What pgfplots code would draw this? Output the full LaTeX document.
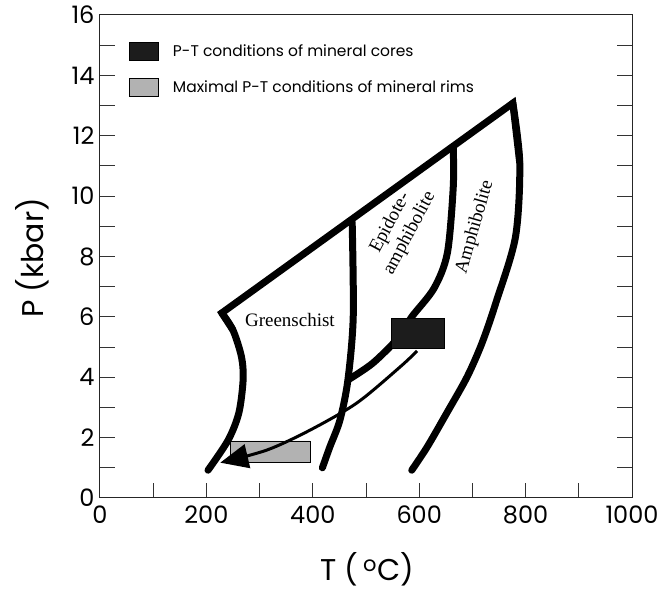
\documentclass[border=0pt]{standalone}
\usepackage{fontspec}
\setmainfont{Poppins}
\newfontfamily\regionfont{Liberation Serif}
\usepackage{pgfplots}
\pgfplotsset{compat=1.18}
\usetikzlibrary{arrows.meta,calc}
\definecolor{coredark}{RGB}{28,28,28}
\definecolor{rimgray}{RGB}{178,178,178}

\begin{document}
\begin{tikzpicture}
\begin{axis}[
    scale only axis,
    width=532pt,
    height=483pt,
    xmin=0, xmax=1000,
    ymin=0, ymax=16,
    xtick={0,200,...,1000},
    minor xtick={100,300,...,900},
    ytick={0,2,...,16},
    minor ytick={1,3,...,15},
    xtick pos=bottom,
    ytick pos=both,
    tick align=inside,
    major tick length=15pt,
    minor tick length=15pt,
    every tick/.style={line width=1pt, black!80},
    axis line style={line width=1pt, black!85},
    /pgf/number format/assume math mode=true,
    /pgf/number format/1000 sep={},
    ticklabel style={font=\fontsize{24}{24}\selectfont},
    xticklabel style={yshift=-4pt},
    yticklabel style={xshift=-2pt},
    xlabel={T (\,\textsuperscript{o}C)},
    ylabel={P (kbar)},
    label style={font=\fontsize{30}{30}\selectfont},
    xlabel style={at={(axis description cs:0.502,-0.148)}, anchor=center},
    ylabel style={at={(axis description cs:-0.128,0.497)}, anchor=center},
    legend image code/.code={\draw[#1] (0pt,-9pt) rectangle (29pt,9pt);},
    legend style={draw=none, fill=none, at={(rel axis cs:0.0545,0.944)}, anchor=north west,
        font=\fontsize{15.5}{15.5}\selectfont, row sep=17pt, inner sep=0pt,
        nodes={inner xsep=14pt, inner ysep=0pt}},
    legend cell align=left,
]
% outer boundary: upper line with its corners
\addplot[forget plot, line width=7pt, line join=miter, black] coordinates {
    (250,5.56) (229,6.13) (776,13.08) (789,11.10)
};
% Greenschist low-T boundary
\addplot[forget plot, line width=7pt, smooth, line cap=round, black] coordinates {
    (229,6.13) (250,5.56) (266,4.67) (269,3.91) (261,2.82) (241,1.92) (203,0.92)
};
% Greenschist / Epidote-amphibolite boundary
\addplot[forget plot, line width=7pt, smooth, line cap=round, black] coordinates {
    (474,9.14) (476,6.0) (466,3.91) (451,2.58) (432,1.69) (418,1.0)
};
% Epidote-amphibolite / Amphibolite boundary
\addplot[forget plot, line width=7pt, smooth, black] coordinates {
    (664,11.59) (664,10.30) (653,8.12) (628,6.95) (586,6.0) (562,5.33) (513,4.47) (466,3.91)
};
% Amphibolite high-T boundary
\addplot[forget plot, line width=7pt, smooth, line cap=round, black] coordinates {
    (776,13.08) (789,11.10) (781,8.65) (744,6.46) (718,5.13) (690,4.01) (652,2.82) (615,1.69) (586,0.92)
};
% P-T conditions of mineral cores
\addplot[fill=coredark, draw=black, line width=0.8pt] coordinates {
    (548,4.95) (648,4.95) (648,5.96) (548,5.96) (548,4.95)
};
\addlegendentry{P-T conditions of mineral cores}
% maximal P-T conditions of mineral rims
\addplot[fill=rimgray, draw=black, line width=0.8pt] coordinates {
    (246,1.19) (395,1.19) (395,1.89) (246,1.89) (246,1.19)
};
\addlegendentry{Maximal P-T conditions of mineral rims}
% retrograde path
\addplot[forget plot, line width=3pt, smooth, black, -{Triangle[length=28pt,width=24pt]}] coordinates {
    (596,4.87) (564,4.34) (483,3.15) (395,2.25) (314,1.59) (226,1.17)
};
\node[font=\regionfont\fontsize{19}{19}\selectfont] at (axis cs:357,5.9) {Greenschist};
\node[font=\regionfont\fontsize{19}{22}\selectfont, rotate=62, align=center] at (axis cs:564,8.94) {Epidote-\\amphibolite};
\node[font=\regionfont\fontsize{19}{19}\selectfont, rotate=74] at (axis cs:705,8.98) {Amphibolite};
\end{axis}
\pgfresetboundingbox
\path[use as bounding box] ($(current axis.south west)+(-100pt,-92pt)$) rectangle ($(current axis.north east)+(35pt,15pt)$);
\end{tikzpicture}
\end{document}
